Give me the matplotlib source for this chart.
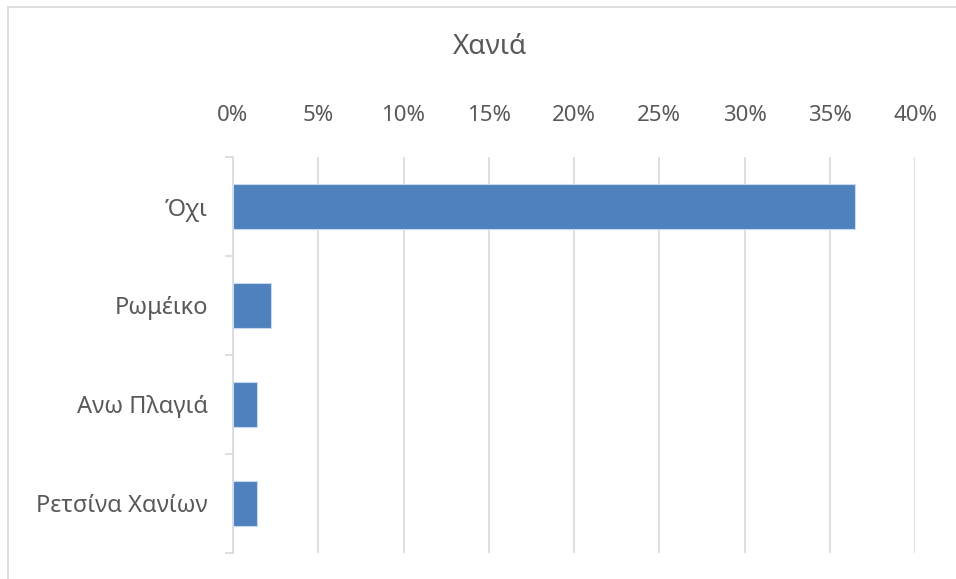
import matplotlib
matplotlib.use( 'Agg' )
import matplotlib.pyplot as plt
from matplotlib.lines import Line2D
from matplotlib.ticker import FixedLocator, PercentFormatter
import numpy as np

plt.rcParams[ 'font.family' ] = [ 'Noto Sans', 'DejaVu Sans' ]

TEXT_COLOR = '#595959'
GRID_COLOR = '#D9D9D9'
BAR_COLOR  = '#4F81BD'

title      = 'Χανιά'
categories = [ 'Όχι', 'Ρωμέικο', 'Ανω Πλαγιά', 'Ρετσίνα Χανίων' ]
values     = [ 0.365, 0.0225, 0.0143, 0.0143 ]
x_ticks    = [ 0, 0.05, 0.10, 0.15, 0.20, 0.25, 0.30, 0.35, 0.40 ]

W, H = 956, 579
fig = plt.figure( figsize = ( W / 100, H / 100 ), dpi = 100 )
ax = fig.add_axes( [ 233 / W, 1 - 553 / H, ( 915 - 233 ) / W, ( 553 - 157 ) / H ] )

y = np.arange( len( categories ) )
ax.barh( y, values, height = 0.46, color = BAR_COLOR,
         edgecolor = '#C6D9F1', linewidth = 0.8, zorder = 3 )

ax.set_xlim( 0, 0.40 )
ax.set_ylim( len( categories ) - 0.5, -0.5 )

ax.xaxis.tick_top()
ax.set_xticks( x_ticks )
ax.xaxis.set_major_formatter( PercentFormatter( 1.0, decimals = 0 ) )
ax.tick_params( axis = 'x', length = 0, pad = 22, labelsize = 16, labelcolor = TEXT_COLOR )
ax.grid( axis = 'x', color = GRID_COLOR, linewidth = 1.2, zorder = 0 )

ax.set_yticks( y )
ax.set_yticklabels( categories )
ax.tick_params( axis = 'y', which = 'major', length = 0, pad = 18,
                labelsize = 17, labelcolor = TEXT_COLOR )
ax.yaxis.set_minor_locator( FixedLocator( np.arange( -0.5, len( categories ), 1.0 ) ) )
ax.tick_params( axis = 'y', which = 'minor', length = 6, width = 1.2,
                color = GRID_COLOR, direction = 'out' )

for side in [ 'top', 'right', 'bottom' ]:
    ax.spines[ side ].set_visible( False )
ax.spines[ 'left' ].set_color( GRID_COLOR )
ax.spines[ 'left' ].set_linewidth( 1.2 )

fig.text( 490 / W, 1 - 47 / H, title, ha = 'center', va = 'center',
          fontsize = 20, color = TEXT_COLOR )

# chart area border (only left and top fall inside the picture)
fig.add_artist( Line2D( [ 8 / W, 8 / W ], [ 0, 1 - 7 / H ], color = GRID_COLOR, linewidth = 1.2 ) )
fig.add_artist( Line2D( [ 8 / W, 1 ], [ 1 - 7 / H, 1 - 7 / H ], color = GRID_COLOR, linewidth = 1.2 ) )

fig.savefig( 'out.png', dpi = 100 )
